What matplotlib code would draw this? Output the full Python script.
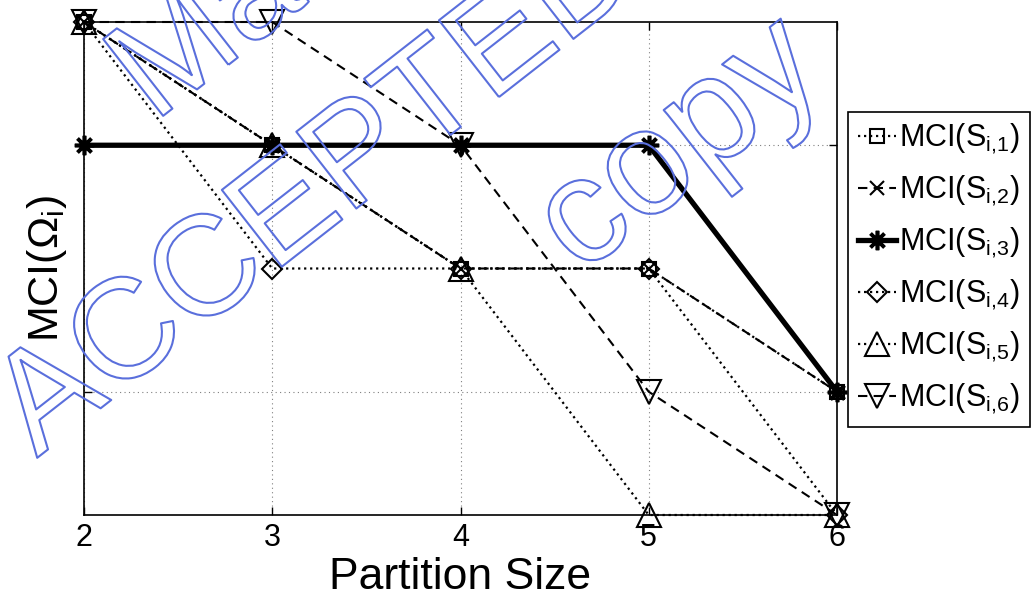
import matplotlib
matplotlib.use('Agg')
import matplotlib.pyplot as plt
import matplotlib.patheffects as pe

# Data (y has no printed values, so levels 0..4 are used)
partition_size = [2, 3, 4, 5, 6]
mci_s1 = [4, 3, 2, 2, 1]
mci_s2 = [4, 3, 2, 2, 1]
mci_s3 = [3, 3, 3, 3, 1]
mci_s4 = [4, 2, 2, 2, 0]
mci_s5 = [4, 3, 2, 0, 0]
mci_s6 = [4, 4, 3, 1, 0]

labels = [r'$\mathrm{MCI(S_{i{,}%d})}$' % k for k in range(1, 7)]

plt.rcParams['font.family'] = 'Liberation Sans'
plt.rcParams['mathtext.fontset'] = 'custom'
plt.rcParams['mathtext.rm'] = 'Liberation Sans'
plt.rcParams['mathtext.it'] = 'Liberation Sans:italic'
plt.rcParams['mathtext.bf'] = 'Liberation Sans:bold'

W, H = 1032, 597
fig = plt.figure(figsize=(W / 100, H / 100), dpi=100)
ax = fig.add_axes([84 / W, 1 - 515 / H, (837 - 84) / W, (515 - 22) / H])

dotted = (0, (1, 1.7))
dashed = (0, (4.5, 3))
common = dict(color='black', markerfacecolor='none', markeredgecolor='black',
              clip_on=False, markeredgewidth=1.5)

ax.plot(partition_size, mci_s1, linestyle=dotted, linewidth=1.6, marker='s',
        markersize=10, label=labels[0], **common)
ax.plot(partition_size, mci_s2, linestyle=dashed, linewidth=1.5, marker='x',
        markersize=10, label=labels[1], **common)
ax.plot(partition_size, mci_s3, linestyle='-', linewidth=3.8, marker=(8, 2, 0),
        markersize=14, label=labels[2],
        **{**common, 'markeredgewidth': 2.6})
ax.plot(partition_size, mci_s4, linestyle=dotted, linewidth=1.6, marker='D',
        markersize=10, label=labels[3], **common)
ax.plot(partition_size, mci_s5, linestyle=dotted, linewidth=1.6, marker='^',
        markersize=17, label=labels[4], **common)
ax.plot(partition_size, mci_s6, linestyle=dashed, linewidth=1.5, marker='v',
        markersize=17, label=labels[5], **common)

ax.set_xlim(2, 6)
ax.set_ylim(0, 4)
ax.set_xticks(partition_size)
ax.set_yticks([1, 3])
ax.set_yticklabels([])
ax.tick_params(direction='in', length=6, width=1, top=True, right=True,
               labelsize=22, pad=6)
ax.grid(True, linestyle=(0, (1, 3)), color='0.5', linewidth=0.8)
for sp in ax.spines.values():
    sp.set_linewidth(1.2)

ax.set_xlabel('Partition Size', fontsize=32)
ax.xaxis.set_label_coords(0.5, -0.086)
ax.set_ylabel(r'$\mathrm{MCI(\Omega_i)}$', fontsize=31)
ax.yaxis.set_label_coords(-0.02, 0.5)

leg = ax.legend(loc='upper left', bbox_to_anchor=(848 / W, 1 - 112 / H),
                bbox_transform=fig.transFigure, borderaxespad=0,
                fontsize=22, handlelength=1.25, handletextpad=0.1,
                labelspacing=0.58, borderpad=0.33, fancybox=False,
                framealpha=1, edgecolor='black')
leg.get_frame().set_linewidth(1.2)

# watermark: outlined blue text, left-baseline anchors in pixels
wm_color = '#5a6fdc'
stroke = [pe.Stroke(linewidth=1.5, foreground=wm_color)]
for txt, px, py, fs in [('Manuscript', 154, 123, 102),
                        ('ACCEPTED', 37, 458, 102),
                        ('copy', 580, 276, 108)]:
    fig.text(px / W, 1 - py / H, txt, rotation=38, rotation_mode='anchor',
             ha='left', va='baseline', fontsize=fs,
             color='none', path_effects=stroke, zorder=10)

fig.savefig('out.png', dpi=100)
